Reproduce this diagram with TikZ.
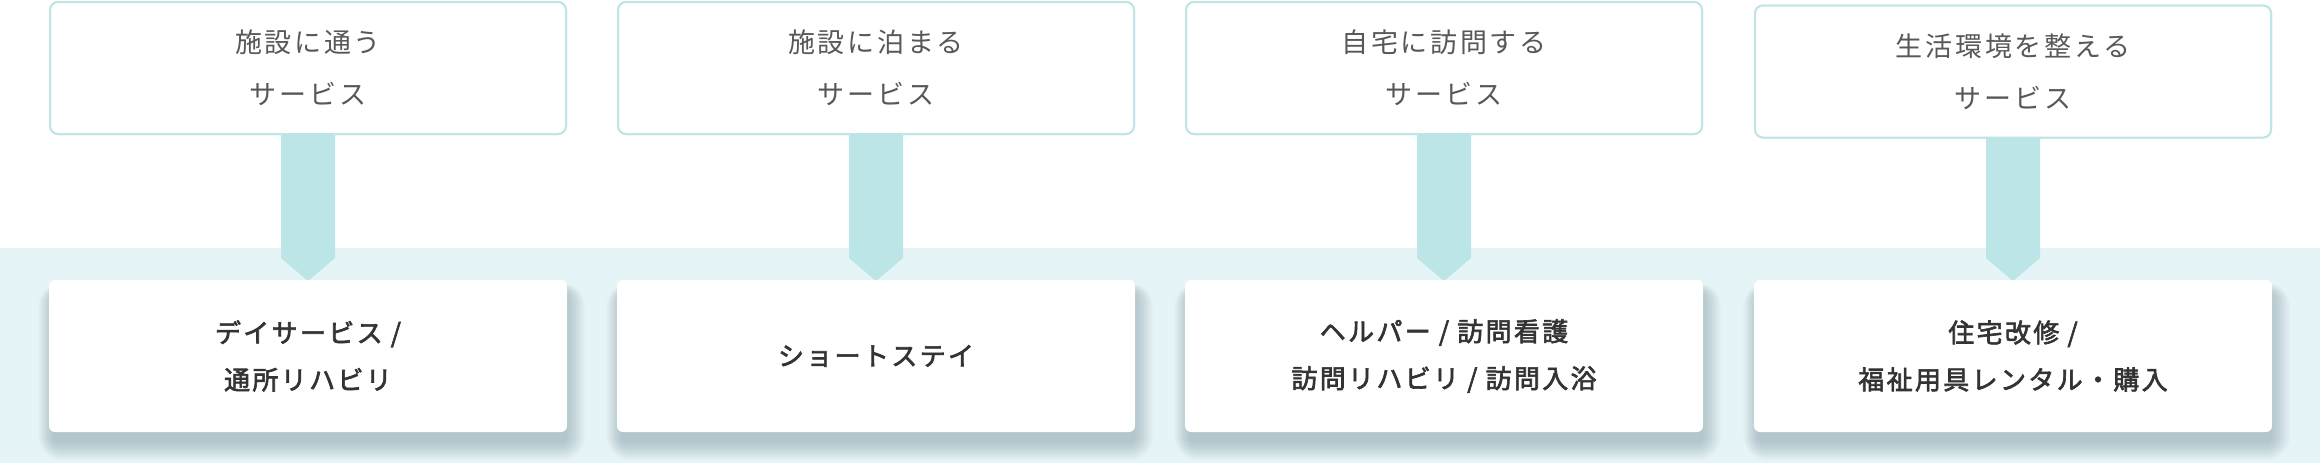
\documentclass[tikz,border=0pt]{standalone}
\usepackage{fontspec}
\newfontfamily\jpt[LetterSpace=10]{Noto Sans CJK JP}
\newfontfamily\jpm[LetterSpace=9,FakeBold=2.4]{Noto Sans CJK JP}
\definecolor{bandc}{HTML}{E4F4F7}
\definecolor{arrc}{HTML}{BCE5E8}
\definecolor{bordc}{HTML}{BFE5E7}
\definecolor{toptext}{HTML}{585858}
\definecolor{bottext}{HTML}{333333}
\definecolor{shadc}{HTML}{3A5A66}
\pgfdeclarelayer{bandlayer}
\pgfdeclarelayer{shadowlayer}
\pgfsetlayers{bandlayer,shadowlayer,main}
\tikzset{
  topbox/.style={draw=bordc, line width=2pt, rounded corners=8pt, fill=white,
    minimum width=516pt, minimum height=132pt, align=center, inner sep=0pt,
    font=\jpt\fontsize{27pt}{52pt}\selectfont, text=toptext},
  botbox/.style={fill=white, rounded corners=6pt,
    minimum width=518pt, minimum height=152pt, align=center, inner sep=0pt,
    font=\jpm\fontsize{26pt}{47pt}\selectfont, text=bottext},
  shadowlayerstyle/.style={fill=shadc, fill opacity=0.024},
  arrowshape/.style={fill=arrc}
}
\begin{document}
\begin{tikzpicture}[x=1pt,y=-1pt]
  \useasboundingbox (0,0) rectangle (2320,472);
  \begin{pgfonlayer}{bandlayer}
    \fill[white] (0,0) rectangle (2320,472);
    \fill[bandc] (0,248) rectangle (2320,463);
  \end{pgfonlayer}

  % top boxes
  \node[topbox] (t1) at (308,68)   {施設に通う\\サービス};
  \node[topbox] (t2) at (876,68)   {施設に泊まる\\サービス};
  \node[topbox] (t3) at (1444,68)  {自宅に訪問する\\サービス};
  \node[topbox] (t4) at (2013,71.5) {生活環境を整える\\サービス};

  % bottom box anchor points for arrow tips
  \coordinate (b1n) at (308,280);
  \coordinate (b2n) at (876,280);
  \coordinate (b3n) at (1444,280);
  \coordinate (b4n) at (2013,280);

  % arrows
  \foreach \i in {1,2,3,4}{
    \fill[arrowshape] ([xshift=-27pt,yshift=2pt]t\i.south) -- ([xshift=27pt,yshift=2pt]t\i.south)
      -- ([xshift=27pt,yshift=22pt]b\i n) -- ([yshift=-1pt]b\i n)
      -- ([xshift=-27pt,yshift=22pt]b\i n) -- cycle;
  }
  % top boxes again, over the arrow stems
  \node[topbox] at (t1) {施設に通う\\サービス};
  \node[topbox] at (t2) {施設に泊まる\\サービス};
  \node[topbox] at (t3) {自宅に訪問する\\サービス};
  \node[topbox] at (t4) {生活環境を整える\\サービス};

  \node[botbox] (b1) at (308,356)  {デイサービス /\\通所リハビリ};
  \node[botbox] (b2) at (876,356)  {ショートステイ};
  \node[botbox] (b3) at (1444,356) {ヘルパー / 訪問看護\\訪問リハビリ / 訪問入浴};
  \node[botbox] (b4) at (2013,356) {住宅改修 /\\福祉用具レンタル・購入};

  % soft shadows of the bottom boxes
  \begin{pgfonlayer}{shadowlayer}
    \foreach \i in {1,2,3,4}{
      \foreach \e in {0,1.5,3,4.5,6,7.5,9,10.5,12,13.5,15,16.5,18}{
        \fill[shadowlayerstyle, rounded corners=6pt+\e pt]
          ([xshift=4pt-0.8*\e pt, yshift=-10pt-\e pt]b\i.south west)
          rectangle ([xshift=\e pt, yshift=-12pt+0.5*\e pt]b\i.north east);
      }
    }
  \end{pgfonlayer}
\end{tikzpicture}
\end{document}
